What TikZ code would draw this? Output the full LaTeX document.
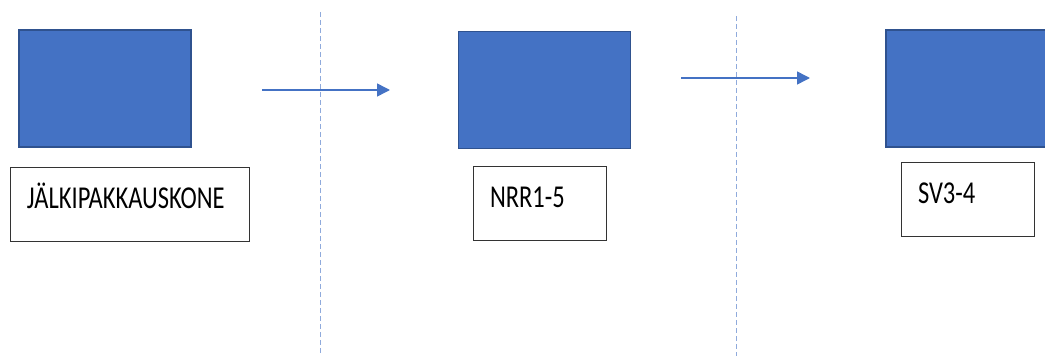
\documentclass[tikz,border=0pt]{standalone}
\usepackage{fontspec}
\setmainfont{Carlito}
\usepackage{graphicx}
\usetikzlibrary{arrows.meta,positioning}

\definecolor{boxblue}{HTML}{4472C4}
\definecolor{boxedge}{HTML}{2F528F}
\definecolor{splitblue}{HTML}{8FAADC}
\newcommand{\tallt}[1]{\scalebox{1}[1.3]{#1}}

\tikzset{
  machine/.style={draw=boxedge, fill=boxblue, line width=1.5pt,
    minimum width=172pt, minimum height=117pt, inner sep=0pt},
  tag/.style={draw=black!80, line width=1pt, inner xsep=17pt, inner ysep=0pt,
    minimum height=74pt, text height=20pt, text depth=12pt, align=left,
    font=\fontsize{24.5}{26}\selectfont},
  flow/.style={draw=boxblue, line width=1.5pt, -{Triangle[length=13pt,width=13pt]}},
  split/.style={draw=splitblue, line width=1pt, dash pattern=on 5pt off 3pt}
}

\begin{document}
\begin{tikzpicture}[x=1pt, y=-1pt]
    \useasboundingbox (0,0) rectangle (1045,356);

    % koneet
    \node[machine] (jalki) at (105,88.5) {};
    \node[machine] (nrr) at (544.5,90) {};
    \node[machine] (sv) at (972,88.5) {};

    \node[tag, text width=205pt] (jalkitag) at (129.5,204) {\tallt{JÄLKIPAKKAUSKONE}};
    \node[tag, text width=99pt] (nrrtag) at (539.5,203) {\tallt{NRR1-5}};
    \node[tag, text width=99pt] (svtag) at (967.5,199) {\tallt{SV3-4}};

    % rajat
    \coordinate (r1top) at (320,12);  \coordinate (r1bot) at (320,356);
    \coordinate (r2top) at (736,16);  \coordinate (r2bot) at (736,356);
    \draw[split] (r1top) -- (r1bot);
    \draw[split] (r2top) -- (r2bot);

    % nuolet
    \coordinate (f1s) at (262,90);  \coordinate (f1e) at (390,90);
    \coordinate (f2s) at (681,78);  \coordinate (f2e) at (810,78);
    \draw[flow] (f1s) -- (f1e);
    \draw[flow] (f2s) -- (f2e);
\end{tikzpicture}
\end{document}
